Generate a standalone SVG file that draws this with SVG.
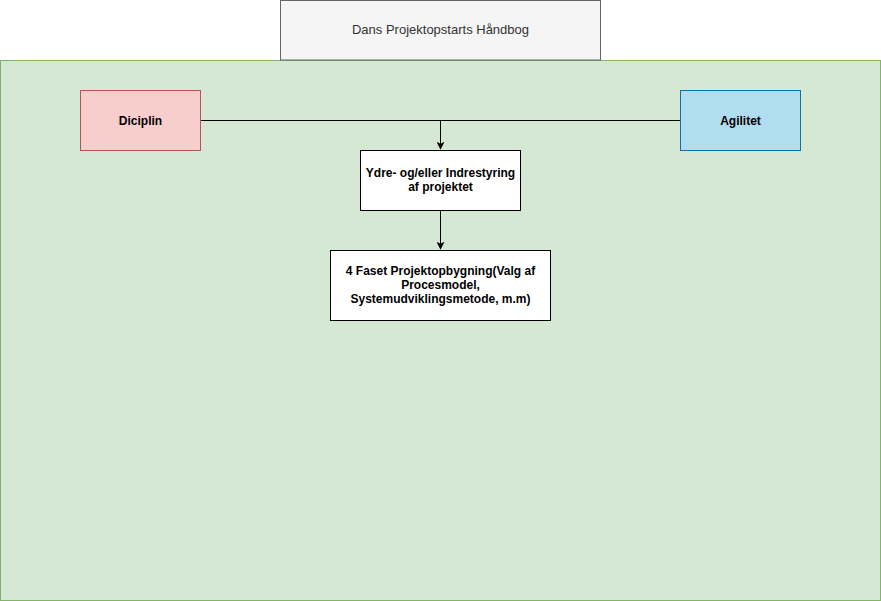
<svg xmlns="http://www.w3.org/2000/svg" width="881" height="601" viewBox="0 0 881 601">
<style>
text{font-family:"Liberation Sans",Arial,sans-serif;font-size:12px;text-anchor:middle;font-weight:bold;fill:#000}
.t{font-weight:normal;fill:#333333;font-size:13px}
.e{fill:none;stroke:#000;stroke-width:1}
</style>
<defs>
<marker id="a" viewBox="0 0 10 10" refX="9" refY="5" markerWidth="8" markerHeight="8" markerUnits="userSpaceOnUse" orient="auto">
<path d="M0,0 L10,5 L0,10 L2.5,5 Z" fill="#000"/>
</marker>
</defs>
<rect width="881" height="601" fill="#ffffff"/>
<g id="container">
<rect x="0.5" y="60.5" width="880" height="540" fill="#d5e8d4" stroke="#82b366"/>
</g>
<g id="title">
<rect x="280.5" y="0.5" width="320" height="59.5" fill="#f5f5f5" stroke="#666666"/>
<text class="t" x="440.5" y="34">Dans Projektopstarts Håndbog</text>
</g>
<g id="connectors">
<path class="e" d="M200.5,120.5 H680.5"/>
<path class="e" d="M440.5,120.5 V149" marker-end="url(#a)"/>
<path class="e" d="M440.5,210.5 V249" marker-end="url(#a)"/>
</g>
<g id="diciplin">
<rect x="80.5" y="90.5" width="120" height="60" fill="#f8cecc" stroke="#b85450"/>
<text x="140.5" y="124.5">Diciplin</text>
</g>
<g id="agilitet">
<rect x="680.5" y="90.5" width="120" height="60" fill="#b1ddf0" stroke="#10739e"/>
<text x="740.5" y="124.5">Agilitet</text>
</g>
<g id="styring">
<rect x="360.5" y="150.5" width="160" height="60" fill="#ffffff" stroke="#000"/>
<text x="440.5" y="177">Ydre- og/eller Indrestyring</text>
<text x="440.5" y="191">af projektet</text>
</g>
<g id="faset">
<rect x="330.5" y="250.5" width="220" height="70" fill="#ffffff" stroke="#000"/>
<text x="440.5" y="275">4 Faset Projektopbygning(Valg af</text>
<text x="440.5" y="289">Procesmodel,</text>
<text x="440.5" y="303">Systemudviklingsmetode, m.m)</text>
</g>
</svg>
